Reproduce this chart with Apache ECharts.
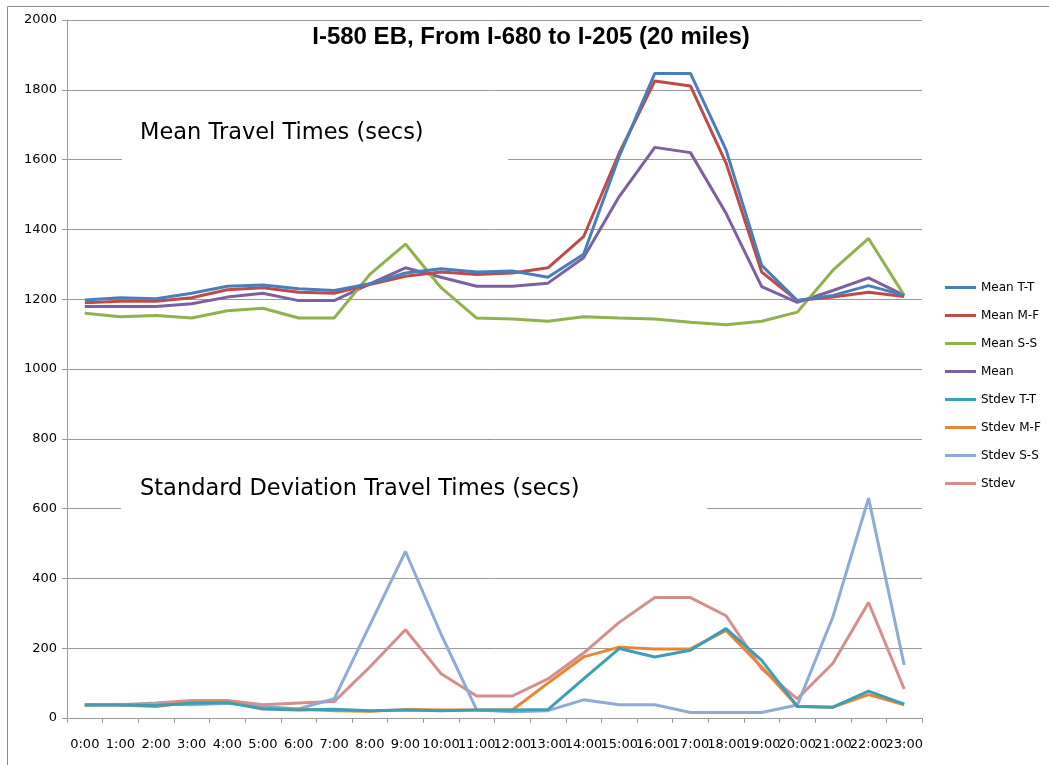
<!DOCTYPE html>
<html>
<head>
<meta charset="utf-8">
<script src="https://cdn.jsdelivr.net/npm/echarts@6/dist/echarts.min.js"></script>
<style>html,body{margin:0;padding:0;background:#fff}#c{width:1049px;height:765px}</style>
</head>
<body>
<div id="c"></div>
<script>
const hours = ['0:00','1:00','2:00','3:00','4:00','5:00','6:00','7:00','8:00','9:00','10:00','11:00','12:00','13:00','14:00','15:00','16:00','17:00','18:00','19:00','20:00','21:00','22:00','23:00'];
const meanTT = [1198,1204,1201,1217,1237,1241,1230,1225,1244,1275,1287,1278,1281,1263,1329,1609,1847,1847,1628,1297,1196,1211,1239,1211];
const meanMF = [1190,1194,1194,1204,1227,1233,1220,1217,1242,1266,1278,1271,1275,1290,1379,1619,1825,1811,1590,1278,1196,1206,1220,1208];
const meanSS = [1160,1150,1153,1146,1167,1174,1146,1146,1271,1358,1233,1146,1143,1137,1150,1146,1143,1134,1127,1137,1163,1283,1374,1211];
const meanAll = [1179,1179,1179,1187,1206,1217,1196,1196,1244,1290,1263,1237,1237,1246,1319,1494,1635,1620,1446,1236,1191,1225,1261,1211];
const stdTT = [37,37,36,42,44,26,23,25,21,23,21,23,23,24,112,199,175,194,256,165,33,31,77,40];
const stdMF = [37,37,33,45,45,28,26,21,19,24,23,23,23,100,175,203,198,198,251,146,34,31,67,38];
const stdSS = [38,38,40,38,42,33,26,55,266,477,240,23,18,21,52,38,38,16,16,16,37,290,630,152];
const stdAll = [38,38,43,50,50,38,43,47,146,253,127,63,63,112,186,274,345,345,293,141,55,157,331,83];
const seriesNames = ['Mean T-T','Mean M-F','Mean S-S','Mean','Stdev T-T','Stdev M-F','Stdev S-S','Stdev'];
const seriesData = [meanTT, meanMF, meanSS, meanAll, stdTT, stdMF, stdSS, stdAll];
const colors = ['#4a7ebb','#be4b48','#8fb24c','#7d60a0','#3d9fb5','#ec8533','#8eabd5','#d48f8d'];
const yTicks = [0,200,400,600,800,1000,1200,1400,1600,1800,2000];

const chart = echarts.init(document.getElementById('c'));
const font = 'DejaVu Sans';
chart.setOption({
  animation: false,
  color: colors,
  grid: {left: 67, right: 127, top: 20, bottom: 47, containLabel: false},
  legend: {
    orient: 'vertical', left: 945, top: 280, padding: 0,
    icon: 'rect', itemWidth: 31, itemHeight: 3, itemGap: 13,
    textStyle: {fontFamily: font, fontSize: 12, color: '#000', lineHeight: 15},
    data: seriesNames
  },
  xAxis: {
    type: 'category', data: hours, boundaryGap: true,
    axisLine: {lineStyle: {color: '#9a9a9a', width: 1}},
    axisTick: {show: true, length: 5, lineStyle: {color: '#9a9a9a'}, alignWithLabel: false},
    axisLabel: {interval: 0, hideOverlap: false, fontFamily: font, fontSize: 13, color: '#000', margin: 20}
  },
  yAxis: {
    type: 'value', min: yTicks[0], max: yTicks[yTicks.length-1], interval: 200,
    axisLine: {show: true, lineStyle: {color: '#9a9a9a', width: 1}},
    axisTick: {show: true, length: 5, lineStyle: {color: '#9a9a9a'}},
    axisLabel: {fontFamily: font, fontSize: 13, color: '#000', margin: 10, formatter: v => String(v)},
    splitLine: {lineStyle: {color: '#9a9a9a', width: 1}}
  },
  graphic: [
    {type: 'rect', left: 5, top: 4, z: -10, shape: {width: 1100, height: 800}, style: {fill: 'none', stroke: '#8c8c8c', lineWidth: 1}},
    {type: 'rect', x: 122, y: 112, z: 50, shape: {width: 386, height: 50}, style: {fill: '#fff'}},
    {type: 'text', x: 140, y: 133, z: 51, style: {text: 'Mean Travel Times (secs)', font: '22.5px "DejaVu Sans"', fill: '#000', verticalAlign: 'middle'}},
    {type: 'rect', x: 121, y: 466, z: 50, shape: {width: 586, height: 46}, style: {fill: '#fff'}},
    {type: 'text', x: 140, y: 489, z: 51, style: {text: 'Standard Deviation Travel Times (secs)', font: '22.5px "DejaVu Sans"', fill: '#000', verticalAlign: 'middle'}},
    {type: 'text', x: 531, y: 37, z: 51, style: {text: 'I-580 EB, From I-680 to I-205 (20 miles)', font: 'bold 24px "Liberation Sans"', fill: '#000', align: 'center', verticalAlign: 'middle'}}
  ],
  series: seriesNames.map((n, i) => ({
    name: n, type: 'line', data: seriesData[i], symbol: 'none', showSymbol: false,
    lineStyle: {width: 3, color: colors[i]}, itemStyle: {color: colors[i]}, z: 10 - i
  }))
});
</script>
</body>
</html>
